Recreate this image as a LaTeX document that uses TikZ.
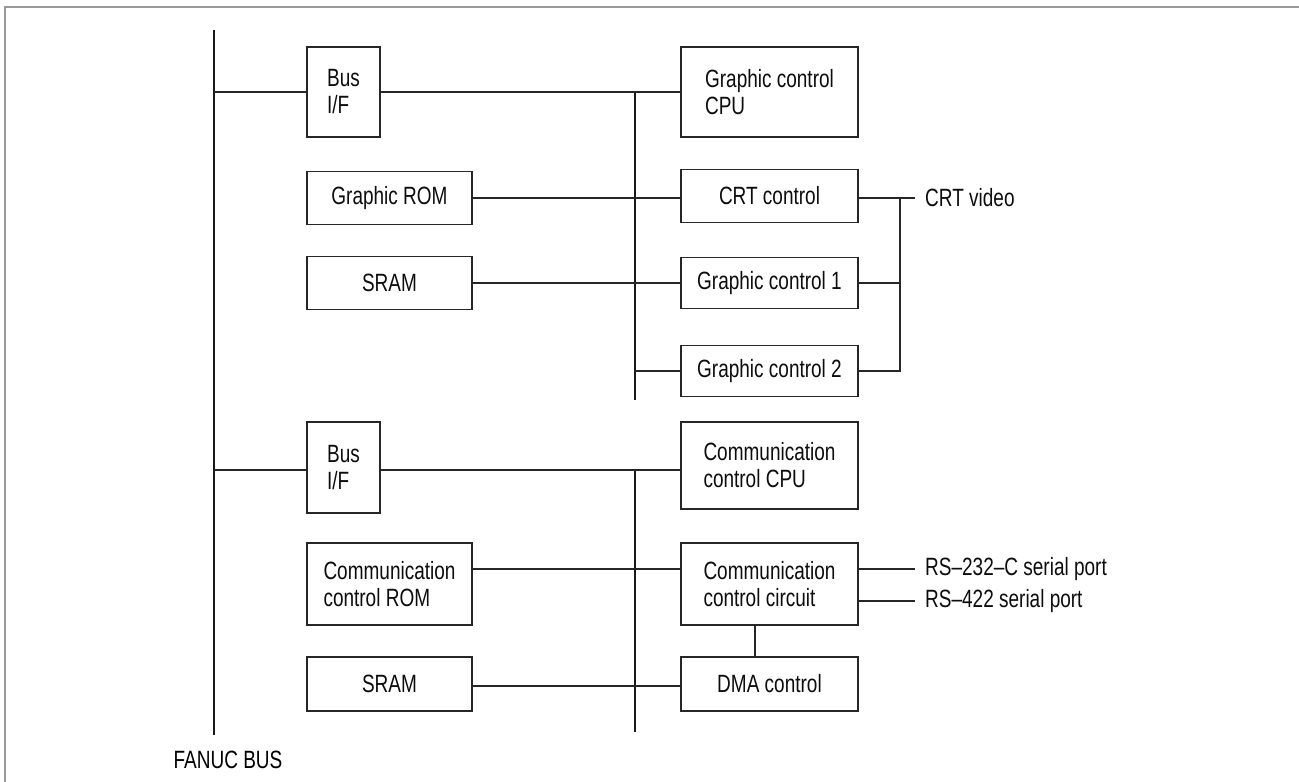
\documentclass[tikz,border=0pt]{standalone}
\usepackage{fontspec}
\setmainfont{Liberation Sans}[FakeStretch=0.76]
\begin{document}
\begin{tikzpicture}[x=1pt,y=-1pt,
  box/.style={draw=black!85, line width=1.3pt, rectangle, inner sep=0pt, align=left, text=black!95},
  conn/.style={draw=black!85, line width=1.1pt},
  bus/.style={draw=black!90, line width=2.4pt},
  lbl/.style={inner sep=0pt, anchor=west, text=black!95},
  every node/.style={font=\fontsize{25}{27}\selectfont}]
\useasboundingbox (0,0) rectangle (1299,782);
\draw[black!40, line width=2.2pt] (5,782) -- (5,7) -- (1299,7);

% buses
\coordinate (mbT) at (214,30);
\coordinate (mbB) at (214,735);
\draw[bus] (mbT) -- (mbB);
\coordinate (ib1T) at (635,92);
\coordinate (ib1B) at (635,400);
\draw[bus] (ib1T) -- (ib1B);
\coordinate (ib2T) at (635,470);
\coordinate (ib2B) at (635,732);
\draw[bus] (ib2T) -- (ib2B);

% upper group
\node[box, minimum width=73pt, minimum height=90pt] (bif1) at (343.5,92) {Bus\\I/F};
\node[box, minimum width=165pt, minimum height=53pt] (grom) at (389.5,198) {Graphic ROM};
\node[box, minimum width=165pt, minimum height=53pt] (sram1) at (389.5,283) {SRAM};
\node[box, minimum width=177pt, minimum height=90pt] (gcpu) at (769.5,92) {Graphic control\\CPU};
\node[box, minimum width=177pt, minimum height=53pt] (crt) at (769.5,196) {CRT control};
\node[box, minimum width=177pt, minimum height=51pt] (gc1) at (769.5,283) {Graphic control 1};
\node[box, minimum width=177pt, minimum height=51pt] (gc2) at (769.5,371) {Graphic control 2};
\node[lbl] (crtv) at (925,198) {CRT video};

\draw[conn] (mbT |- bif1.west) -- (bif1.west);
\draw[conn] (bif1.east) -- (gcpu.west);
\draw[conn] (grom.east) -- (crt.west |- grom.east);
\draw[conn] (sram1.east) -- (gc1.west |- sram1.east);
\draw[conn] (ib1T |- gc2.west) -- (gc2.west);
\coordinate (cj) at (900,198);
\coordinate (cv) at (915,198);
\draw[conn] (crt.east |- cj) -- (cv);
\draw[conn] (gc1.east) -- (cj |- gc1.east);
\draw[conn] (gc2.east) -- (cj |- gc2.east) -- (cj);

% lower group
\node[box, minimum width=73pt, minimum height=91pt] (bif2) at (343.5,467.5) {Bus\\I/F};
\node[box, minimum width=165pt, minimum height=82pt] (crom) at (389.5,584) {Communication\\control ROM};
\node[box, minimum width=165pt, minimum height=54pt] (sram2) at (389.5,684) {SRAM};
\node[box, minimum width=177pt, minimum height=87pt] (ccpu) at (769.5,465.5) {Communication\\control CPU};
\node[box, minimum width=177pt, minimum height=82pt] (ccc) at (769.5,584) {Communication\\control circuit};
\node[box, minimum width=177pt, minimum height=54pt] (dma) at (769.5,684) {DMA control};
\node[lbl] (rs232) at (925,569) {RS--232--C serial port};
\node[lbl] (rs422) at (925,601) {RS--422 serial port};
\node[inner sep=0pt] (fanuc) at (228,760) {FANUC BUS};

\coordinate (j2) at (635,470);
\draw[conn] (mbT |- j2) -- (bif2.west |- j2);
\draw[conn] (bif2.east |- j2) -- (ccpu.west |- j2);
\coordinate (j5) at (635,569);
\draw[conn] (crom.east |- j5) -- (ccc.west |- j5);
\coordinate (j6) at (635,686);
\draw[conn] (sram2.east |- j6) -- (dma.west |- j6);
\coordinate (rsA) at (915,569);
\coordinate (rsB) at (915,601);
\draw[conn] (ccc.east |- rsA) -- (rsA);
\draw[conn] (ccc.east |- rsB) -- (rsB);
\coordinate (vx) at (755,600);
\draw[conn] (ccc.south -| vx) -- (dma.north -| vx);
\end{tikzpicture}
\end{document}
